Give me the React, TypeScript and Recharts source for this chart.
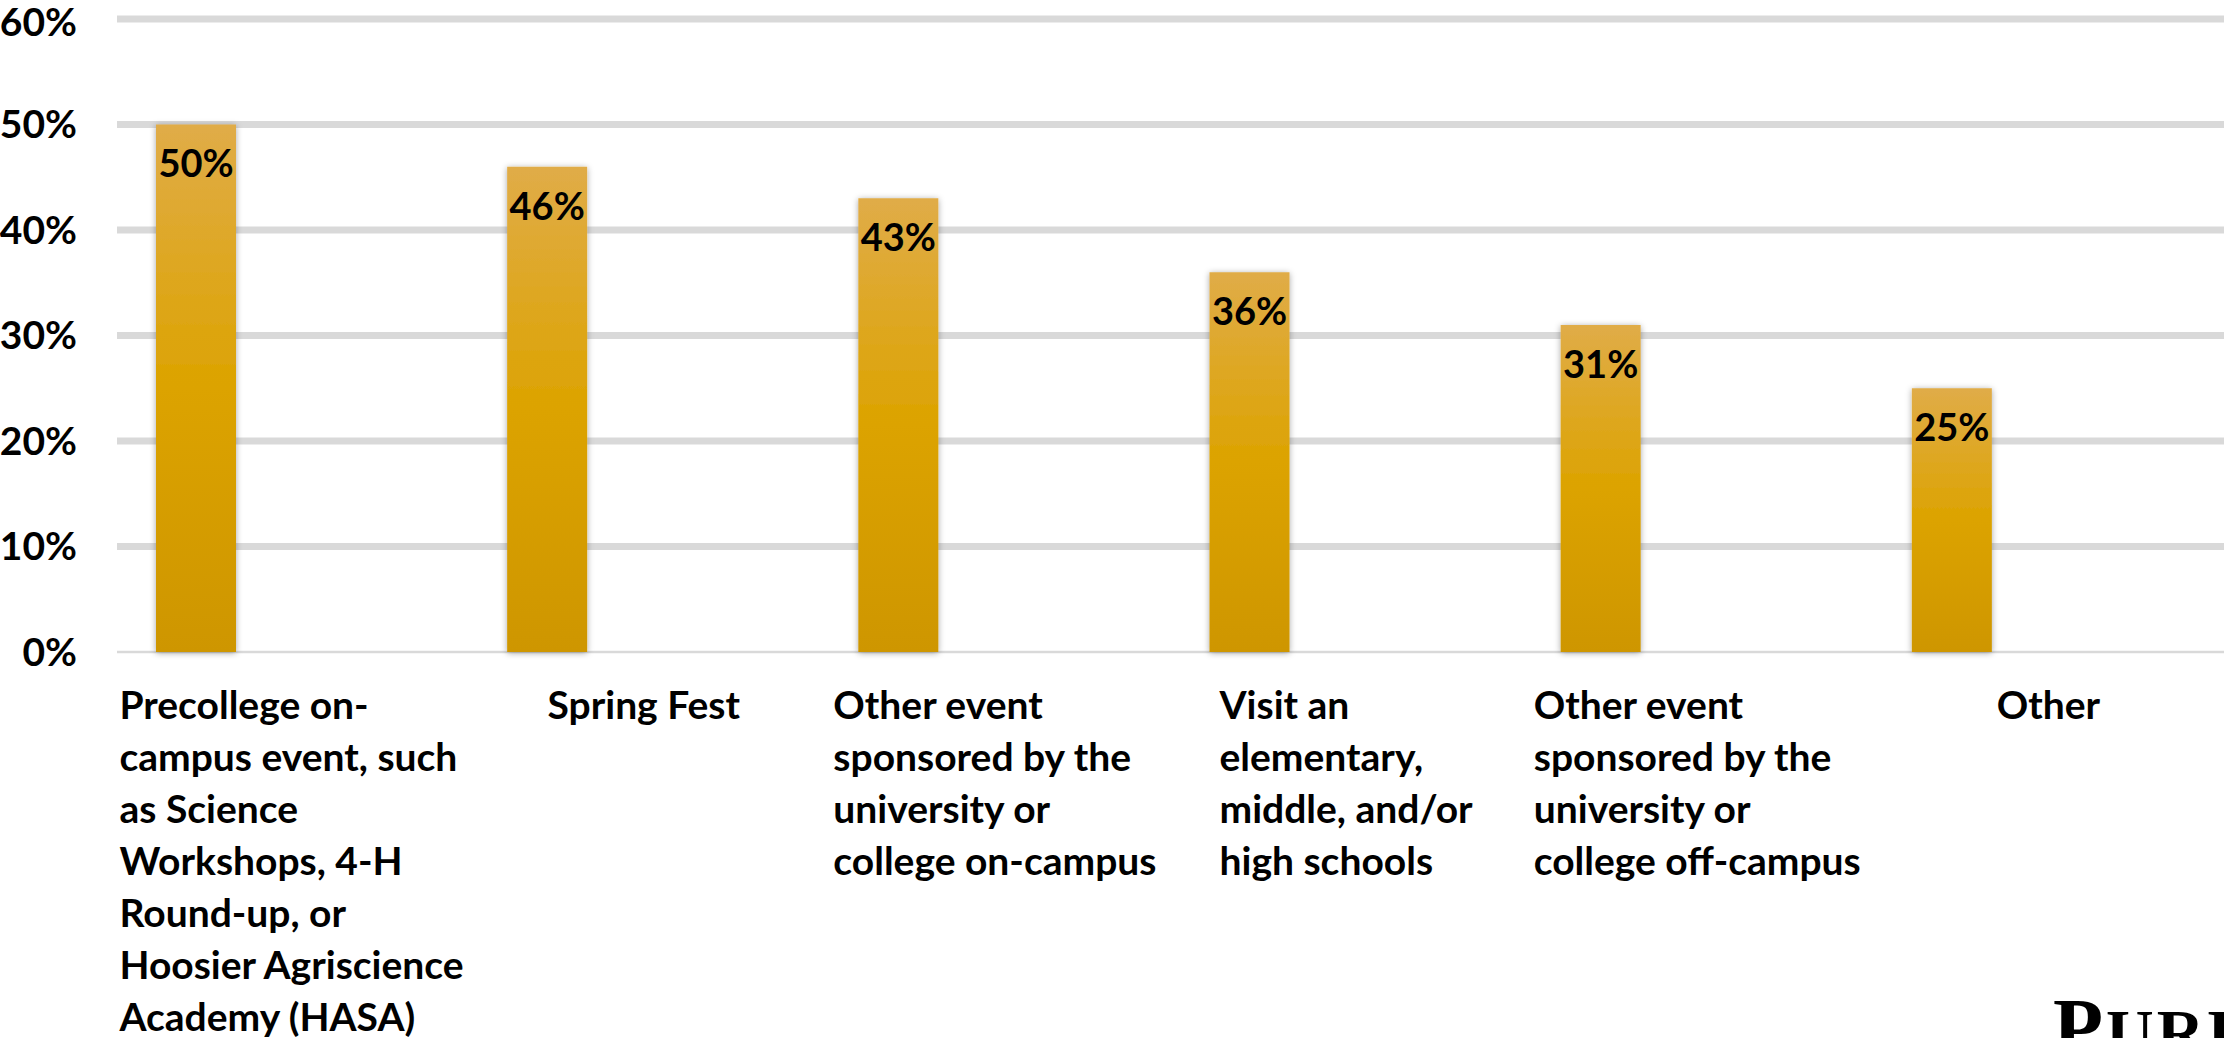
import { BarChart, Bar, XAxis, YAxis, CartesianGrid, LabelList } from "recharts";

const categories = [
  "Precollege on-campus event, such as Science Workshops, 4-H Round-up, or Hoosier Agriscience Academy (HASA)",
  "Spring Fest",
  "Other event sponsored by the university or college on-campus",
  "Visit an elementary, middle, and/or high schools",
  "Other event sponsored by the university or college off-campus",
  "Other",
];

// wrapped tick labels, as they break in the original
const tickLines = [
  ["Precollege on-", "campus event, such", "as Science", "Workshops, 4-H", "Round-up, or", "Hoosier Agriscience", "Academy (HASA)"],
  ["Spring Fest"],
  ["Other event", "sponsored by the", "university or", "college on-campus"],
  ["Visit an", "elementary,", "middle, and/or", "high schools"],
  ["Other event", "sponsored by the", "university or", "college off-campus"],
  ["Other"],
];

const shares = [50, 46, 43, 36, 31, 25];
const yTicks = [0, 10, 20, 30, 40, 50, 60];

const data = categories.map((name, i) => ({ name, share: shares[i] }));

const W = 2224;
const H = 1038;
const TOP = 19;
const PLOT_H = 633;
const FONT = "Lato, 'Open Sans', sans-serif";
const TICK_SIZE = 39;
const LINE_H = 52;

let ctx: CanvasRenderingContext2D | null = null;
function measure(s: string) {
  if (!ctx) ctx = document.createElement("canvas").getContext("2d");
  if (!ctx) return s.length * TICK_SIZE * 0.5;
  ctx.font = `bold ${TICK_SIZE}px Lato`;
  return ctx.measureText(s).width;
}

function CategoryTick(props: any) {
  const { x, y, index } = props;
  const lines = tickLines[index] || [];
  const blockW = Math.max(...lines.map(measure));
  const left = x - blockW / 2;
  return (
    <text x={left} y={y} textAnchor="start" fontFamily={FONT} fontWeight={700} fontSize={TICK_SIZE} fill="#000">
      {lines.map((l, i) => (
        <tspan key={i} x={left} y={y + 59 + i * LINE_H}>
          {l}
        </tspan>
      ))}
    </text>
  );
}

function GridLine(p: any) {
  const isBase = Math.abs(p.y1 - (TOP + PLOT_H)) < 1;
  return (
    <line
      key={`g-${p.index}`}
      x1={p.x1}
      x2={p.x2}
      y1={p.y1}
      y2={p.y2}
      stroke="#D9D9D9"
      strokeWidth={isBase ? 2.5 : 7}
    />
  );
}

export default function App() {
  return (
    <div style={{ position: "absolute", left: 0, top: 0, width: W, height: H, overflow: "hidden", background: "#fff" }}>
      <BarChart
        width={W}
        height={H}
        data={data}
        margin={{ top: TOP, right: 0, bottom: 0, left: 0 }}
        barSize={80}
        barGap={17}
      >
        <defs>
          <linearGradient id="barGrad" x1="0" y1="0" x2="0" y2="1">
            <stop offset="0%" stopColor="#E0AC48" />
            <stop offset="50%" stopColor="#DCA300" />
            <stop offset="100%" stopColor="#CE9600" />
          </linearGradient>
          <filter id="barShadow" x="-30%" y="-10%" width="160%" height="120%">
            <feDropShadow dx="0" dy="1" stdDeviation="3" floodColor="#000" floodOpacity="0.35" />
          </filter>
        </defs>
        <CartesianGrid vertical={false} horizontal={GridLine} />
        <XAxis
          dataKey="name"
          axisLine={false}
          tickLine={false}
          interval={0}
          height={H - TOP - PLOT_H}
          tick={<CategoryTick />}
        />
        <YAxis
          domain={[0, 60]}
          ticks={yTicks}
          tickFormatter={(v) => `${v}%`}
          axisLine={false}
          tickLine={false}
          tickSize={0}
          tickMargin={40}
          width={117}
          tick={{ fontSize: 39, fontWeight: 700, fill: "#000", fontFamily: FONT }}
        />
        <Bar dataKey="share" fill="url(#barGrad)" filter="url(#barShadow)" isAnimationActive={false}>
          <LabelList
            dataKey="share"
            position="insideTop"
            offset={26}
            formatter={(v: any) => `${v}%`}
            fill="#000"
            fontSize={38}
            fontWeight={700}
            fontFamily={FONT}
          />
        </Bar>
        <Bar dataKey="pad1" fill="none" isAnimationActive={false} />
        <Bar dataKey="pad2" fill="none" isAnimationActive={false} />
      </BarChart>
      <svg style={{ position: "absolute", left: 2040, top: 980 }} width={184} height={90}>
        <text x={13} y={75} fontFamily="'Liberation Serif', serif" fontWeight={700} fill="#000" letterSpacing={3}>
          <tspan fontSize={82}>P</tspan>
          <tspan fontSize={66}>URDUE</tspan>
        </text>
      </svg>
    </div>
  );
}
